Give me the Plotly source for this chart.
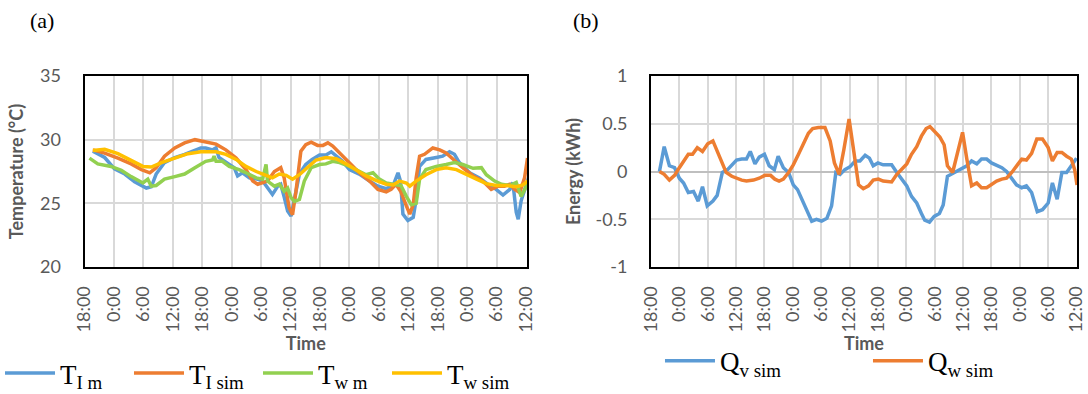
import plotly.graph_objects as go

# ---------------- data ----------------
tick_hours = [0, 6, 12, 18, 24, 30, 36, 42, 48, 54, 60, 66, 72, 78, 84, 90]
tick_labels = ["18:00", "0:00", "6:00", "12:00", "18:00", "0:00", "6:00", "12:00",
               "18:00", "0:00", "6:00", "12:00", "18:00", "0:00", "6:00", "12:00"]
energy_ticks = [1, 0.5, 0, -0.5, -1]
energy_labels = ["1", "0.5", "0", "-0.5", "-1"]

# (a) temperatures
t_im_hours = [1.7, 4.1, 6.1, 8.2, 10.2, 12.6, 13.6, 14.6, 16.3, 18.4, 20.4, 23.7, 24.7, 26.1, 26.8,
              27.4, 29.5, 30.5, 31.2, 32.2, 33.6, 35.3, 36.3, 37.3, 38.3, 39.4, 40.0, 40.7, 41.4,
              42.1, 42.8, 43.8, 45.1, 46.4, 47.9, 49.2, 50.3, 51.3, 52.6, 54.0, 56.0, 58.1, 59.8,
              61.5, 62.9, 63.9, 64.4, 64.9, 65.9, 67.0, 67.6, 68.3, 69.6, 71.7, 73.0, 74.4, 75.4,
              76.4, 78.5, 80.5, 82.2, 83.9, 85.3, 86.7, 87.3, 88.0, 88.4, 89.0, 90.1, 90.5]
t_im_vals = [29.1, 28.6, 27.7, 27.3, 26.7, 26.2, 26.3, 27.3, 28.2, 28.6, 28.85, 29.35, 29.35, 29.2,
             29.35, 28.6, 28.05, 27.8, 27.15, 27.4, 27.0, 26.9, 26.75, 26.2, 25.7, 26.35, 26.5,
             25.5, 24.4, 24.0, 25.4, 27.3, 28.05, 28.45, 28.8, 28.8, 29.05, 28.7, 28.3, 27.65,
             27.3, 26.75, 26.35, 26.15, 26.4, 27.4, 26.75, 24.15, 23.65, 23.9, 25.3, 27.9, 28.45,
             28.6, 28.7, 29.05, 28.85, 28.2, 27.4, 27.0, 26.5, 26.1, 25.65, 26.1, 26.65, 24.3,
             23.75, 25.2, 26.5, 27.0]

t_isim_hours = [1.7, 4.1, 6.8, 9.5, 11.6, 13.3, 14.6, 16.3, 18.4, 20.4, 22.5, 24.7, 26.8, 28.8,
                30.9, 32.9, 34.3, 35.3, 36.3, 37.3, 38.7, 40.0, 40.7, 41.7, 42.4, 43.1, 44.1, 45.1,
                46.2, 47.5, 48.6, 49.6, 50.6, 52.0, 54.0, 56.0, 58.1, 59.8, 61.5, 62.5, 63.5, 64.5,
                65.6, 66.3, 67.0, 67.6, 68.3, 69.3, 71.0, 72.4, 73.7, 75.1, 77.1, 79.2, 81.2, 82.9,
                84.3, 85.6, 86.7, 87.7, 88.7, 89.7, 90.3]
t_isim_vals = [29.2, 28.95, 28.55, 28.1, 27.65, 27.4, 27.8, 28.7, 29.35, 29.75, 30.0, 29.8, 29.65,
               29.2, 28.55, 27.65, 26.75, 26.5, 26.6, 26.75, 27.5, 27.8, 27.0, 24.65, 24.1, 25.95,
               29.1, 29.6, 29.8, 29.55, 29.55, 29.75, 29.5, 28.95, 28.2, 27.4, 26.75, 26.1, 25.9,
               26.1, 26.5, 25.9, 24.8, 24.15, 24.9, 27.0, 28.7, 28.85, 29.35, 29.2, 28.95, 28.45,
               27.8, 27.15, 26.75, 26.1, 26.35, 26.35, 26.5, 26.1, 25.85, 27.0, 28.55]

t_wm_hours = [1.0, 2.7, 5.4, 7.5, 9.5, 11.9, 12.9, 13.6, 14.6, 16.3, 18.4, 20.4, 22.5, 23.7, 24.7,
              26.1, 26.4, 26.8, 28.1, 29.5, 31.5, 32.9, 35.0, 36.3, 37.0, 37.3, 38.7, 39.7, 40.7,
              41.4, 42.1, 42.8, 43.8, 44.8, 46.2, 47.9, 49.2, 50.6, 52.0, 54.0, 56.0, 57.4, 58.8,
              60.1, 61.5, 63.2, 64.5, 65.6, 66.6, 67.6, 68.3, 69.6, 71.7, 73.7, 75.4, 77.1, 79.2,
              80.9, 81.9, 83.6, 85.0, 86.7, 88.0, 89.0, 90.1, 90.5]
t_wm_vals = [28.55, 28.1, 27.9, 27.6, 27.1, 26.6, 26.9, 26.35, 26.4, 26.9, 27.1, 27.3, 27.8, 28.05,
             28.3, 28.4, 28.7, 28.3, 28.3, 27.9, 27.65, 27.4, 27.0, 26.9, 28.05, 26.75, 26.35,
             26.5, 25.95, 26.2, 25.45, 25.15, 25.3, 26.75, 27.8, 28.05, 28.1, 28.3, 28.2, 27.9,
             27.5, 27.25, 27.4, 26.9, 26.6, 26.5, 26.4, 25.55, 24.9, 25.0, 26.9, 27.65, 27.9,
             28.05, 28.2, 28.05, 27.75, 27.8, 27.25, 26.75, 26.5, 26.4, 26.65, 25.55, 26.3, 26.65]

t_wsim_hours = [1.7, 4.1, 6.8, 9.5, 11.9, 13.6, 15.7, 18.4, 21.1, 23.7, 26.8, 28.8, 30.9, 32.9,
                35.0, 37.0, 38.3, 39.7, 41.1, 42.4, 43.8, 45.1, 46.4, 47.2, 49.2, 51.3, 53.3, 55.4,
                57.4, 59.4, 61.5, 62.9, 64.2, 65.6, 66.3, 67.6, 69.6, 71.7, 73.7, 75.8, 77.8, 79.9,
                81.9, 83.9, 86.0, 88.0, 89.4, 90.5]
t_wsim_vals = [29.15, 29.25, 28.9, 28.35, 27.9, 27.85, 28.2, 28.55, 28.9, 29.05, 29.05, 28.85,
               28.45, 27.9, 27.5, 27.2, 27.0, 27.3, 27.2, 26.9, 27.25, 27.7, 28.1, 28.4, 28.6,
               28.5, 28.1, 27.6, 27.15, 26.8, 26.5, 26.45, 26.75, 26.6, 26.35, 26.75, 27.25,
               27.65, 27.8, 27.65, 27.25, 26.9, 26.55, 26.4, 26.4, 26.3, 26.45, 26.8]

# (b) energy
q_v_hours = [1.8, 2.8, 3.9, 5.0, 6.0, 6.9, 7.9, 9.0, 10.0, 10.9, 11.9, 13.1, 14.0, 15.1, 16.2,
             17.1, 18.1, 19.2, 20.2, 21.0, 22.0, 22.9, 24.0, 25.0, 26.1, 26.9, 28.0, 29.1, 30.1,
             31.0, 31.9, 32.9, 34.0, 35.0, 36.1, 37.2, 38.2, 39.1, 40.0, 41.0, 42.1, 43.2, 44.2,
             45.3, 46.2, 47.0, 48.0, 49.1, 50.9, 52.0, 53.0, 54.1, 55.1, 56.2, 57.2, 57.9, 58.9,
             59.9, 61.0, 61.8, 62.7, 63.8, 64.8, 65.7, 66.8, 67.8, 68.9, 69.9, 71.0, 72.0, 73.1,
             74.2, 75.2, 76.3, 77.3, 78.4, 79.4, 80.5, 81.7, 82.8, 84.0, 84.9, 85.9, 86.9, 87.9,
             88.9, 90.0]
q_v_vals = [0.0, 0.26, 0.06, 0.04, -0.07, -0.12, -0.22, -0.21, -0.31, -0.16, -0.36, -0.31, -0.25,
            -0.01, 0.02, 0.07, 0.12, 0.13, 0.13, 0.21, 0.08, 0.15, 0.18, 0.06, 0.02, 0.16, 0.04,
            -0.01, -0.14, -0.19, -0.29, -0.42, -0.52, -0.50, -0.52, -0.49, -0.36, -0.01, -0.03,
            0.02, 0.05, 0.11, 0.11, 0.17, 0.14, 0.06, 0.09, 0.07, 0.07, -0.01, -0.08, -0.15,
            -0.26, -0.33, -0.44, -0.51, -0.53, -0.47, -0.44, -0.35, -0.05, -0.02, 0.0, 0.03,
            0.06, 0.11, 0.08, 0.13, 0.13, 0.09, 0.06, 0.04, 0.0, -0.07, -0.14, -0.17, -0.15,
            -0.22, -0.42, -0.40, -0.33, -0.12, -0.29, -0.01, -0.01, 0.06, 0.14]

q_w_hours = [1.8, 2.8, 3.9, 5.0, 6.0, 7.1, 7.9, 8.8, 9.8, 10.9, 12.0, 13.1, 14.0, 15.0, 15.9,
             17.1, 18.1, 19.2, 20.2, 21.7, 22.9, 24.1, 25.3, 26.2, 27.1, 28.0, 29.1, 30.1, 31.2,
             32.2, 33.3, 34.2, 35.4, 36.8, 37.9, 38.8, 39.8, 40.8, 41.9, 42.9, 43.9, 44.9, 46.0,
             47.0, 48.1, 49.1, 50.9, 52.0, 53.0, 54.1, 55.1, 56.2, 57.2, 58.2, 59.0, 60.1, 61.1,
             62.0, 62.7, 63.8, 65.0, 65.9, 66.8, 67.8, 68.9, 69.9, 71.0, 72.0, 73.1, 74.2, 75.2,
             76.3, 77.3, 78.4, 79.4, 80.5, 81.6, 82.8, 84.0, 84.9, 85.9, 86.9, 87.9, 88.9, 89.6,
             90.1]
q_w_vals = [0.0, -0.03, -0.09, -0.04, 0.04, 0.13, 0.18, 0.18, 0.25, 0.21, 0.29, 0.32, 0.21, 0.11,
            -0.01, -0.05, -0.07, -0.09, -0.10, -0.09, -0.07, -0.04, -0.04, -0.08, -0.10, -0.08,
            -0.01, 0.07, 0.18, 0.28, 0.40, 0.45, 0.46, 0.46, 0.32, 0.09, -0.03, 0.23, 0.55, 0.21,
            -0.14, -0.18, -0.15, -0.09, -0.08, -0.10, -0.11, -0.03, 0.02, 0.08, 0.18, 0.26, 0.37,
            0.45, 0.47, 0.41, 0.36, 0.28, 0.06, -0.01, 0.23, 0.41, 0.13, -0.15, -0.12, -0.17,
            -0.17, -0.14, -0.10, -0.08, -0.07, -0.01, 0.06, 0.13, 0.12, 0.19, 0.34, 0.34, 0.25,
            0.11, 0.20, 0.20, 0.16, 0.13, 0.02, -0.14]

# ---------------- styling ----------------
BLUE, ORANGE, GREEN, YELLOW = "#5B9BD5", "#ED7D31", "#92D050", "#FFC000"
SANS = "Lato, Carlito, Calibri, sans-serif"
SERIF = "Liberation Serif, Times New Roman, serif"
GREY = "#595959"
LW = 3.5


def leg(main, sub):
    return main + "<sub>" + sub + "</sub>"


fig = go.Figure()

fig.add_trace(go.Scatter(x=t_im_hours, y=t_im_vals, mode="lines", name=leg("T", "I m"),
                         line=dict(color=BLUE, width=LW), xaxis="x", yaxis="y", legend="legend"))
fig.add_trace(go.Scatter(x=t_isim_hours, y=t_isim_vals, mode="lines", name=leg("T", "I sim"),
                         line=dict(color=ORANGE, width=LW), xaxis="x", yaxis="y", legend="legend"))
fig.add_trace(go.Scatter(x=t_wm_hours, y=t_wm_vals, mode="lines", name=leg("T", "w m"),
                         line=dict(color=GREEN, width=LW), xaxis="x", yaxis="y", legend="legend"))
fig.add_trace(go.Scatter(x=t_wsim_hours, y=t_wsim_vals, mode="lines", name=leg("T", "w sim"),
                         line=dict(color=YELLOW, width=LW), xaxis="x", yaxis="y", legend="legend"))

fig.add_trace(go.Scatter(x=q_v_hours, y=q_v_vals, mode="lines", name=leg("Q", "v sim"),
                         line=dict(color=BLUE, width=LW), xaxis="x2", yaxis="y2", legend="legend2"))
fig.add_trace(go.Scatter(x=q_w_hours, y=q_w_vals, mode="lines", name=leg("Q", "w sim"),
                         line=dict(color=ORANGE, width=LW), xaxis="x2", yaxis="y2", legend="legend2"))

xcommon = dict(tickmode="array", tickvals=tick_hours, ticktext=tick_labels, tickangle=-90,
               showgrid=True, gridcolor="#D9D9D9", gridwidth=1.5, showline=True, linecolor="black",
               linewidth=2, mirror=True, zeroline=False, ticks="",
               tickfont=dict(family=SANS, size=18, color=GREY), ticklabelstandoff=10,
               title=dict(text="<b>Time</b>", font=dict(family=SANS, size=18, color=GREY), standoff=0))
ycommon = dict(showgrid=True, gridcolor="#D9D9D9", gridwidth=1.5, showline=True, linecolor="black",
               linewidth=2, mirror=True, ticks="", tickfont=dict(family=SANS, size=18, color=GREY),
               ticklabelstandoff=18)

fig.update_layout(
    width=1088, height=394, margin=dict(l=0, r=0, t=0, b=0, autoexpand=False),
    paper_bgcolor="white", plot_bgcolor="white",
    xaxis=dict(domain=[0.0777, 0.4844], range=[0, 90.2], anchor="y", **xcommon),
    yaxis=dict(domain=[0.3223, 0.8071], range=[20, 35], dtick=5, anchor="x", zeroline=False,
               title=dict(text="<b>Temperature (°C)</b>", font=dict(family=SANS, size=18, color=GREY),
                          standoff=12), **ycommon),
    xaxis2=dict(domain=[0.5983, 0.9899], range=[0, 90.1], anchor="y2", **xcommon),
    yaxis2=dict(domain=[0.3223, 0.8071], range=[-1, 1], tickmode="array", tickvals=energy_ticks,
                ticktext=energy_labels, anchor="x2",
                zeroline=True, zerolinecolor="#BFBFBF", zerolinewidth=1.5,
                title=dict(text="<b>Energy (kWh)</b>", font=dict(family=SANS, size=18, color=GREY),
                           standoff=10), **ycommon),
    legend=dict(orientation="h", x=0.0, xanchor="left", y=0.052, yanchor="middle",
                font=dict(family=SERIF, size=27, color="black"), entrywidth=64, itemwidth=50,
                entrywidthmode="pixels", bgcolor="rgba(0,0,0,0)"),
    legend2=dict(orientation="h", x=0.6066, xanchor="left", y=0.083, yanchor="middle",
                 font=dict(family=SERIF, size=27, color="black"), entrywidth=143, itemwidth=50,
                 entrywidthmode="pixels", bgcolor="rgba(0,0,0,0)"),
    annotations=[
        dict(text="(a)", x=42 / 1088, y=1 - 20 / 394, xref="paper", yref="paper", showarrow=False,
             font=dict(family=SERIF, size=22, color="black"), xanchor="center", yanchor="middle"),
        dict(text="(b)", x=586 / 1088, y=1 - 21 / 394, xref="paper", yref="paper", showarrow=False,
             font=dict(family=SERIF, size=22, color="black"), xanchor="center", yanchor="middle"),
    ],
)

fig.write_html("out.html")
